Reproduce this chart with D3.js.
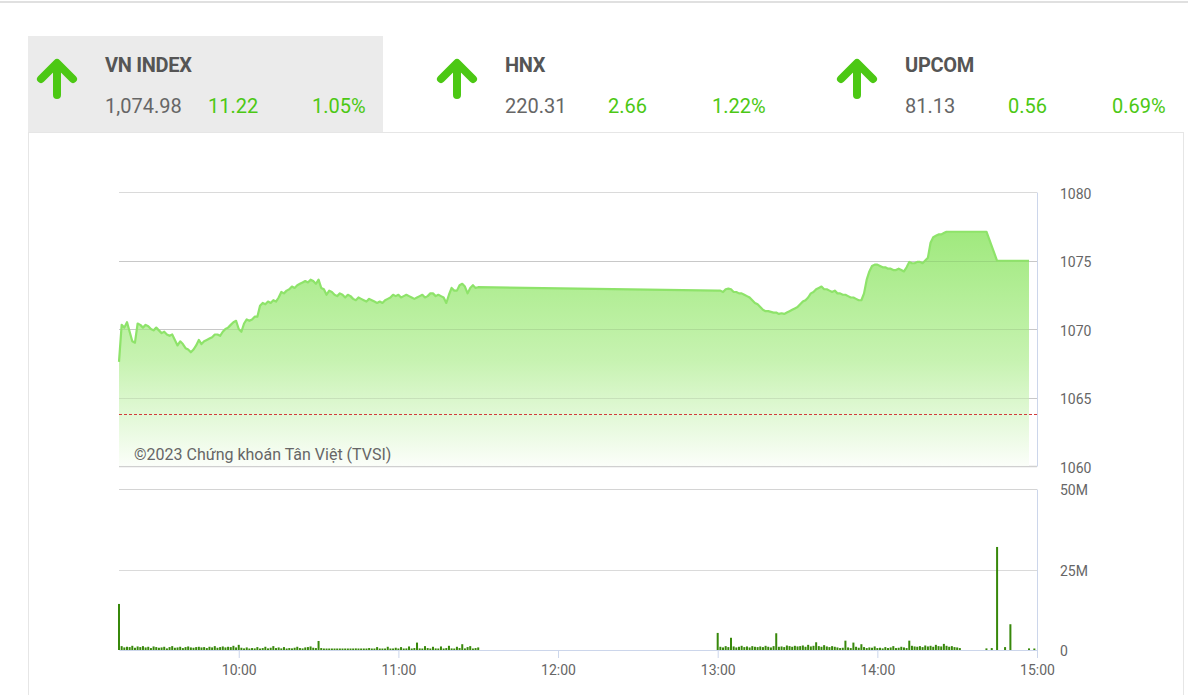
<!DOCTYPE html>
<html>
<head>
<meta charset="utf-8">
<script src="https://cdn.jsdelivr.net/npm/d3@7"></script>
<style>
  html, body { margin: 0; padding: 0; background: #fff; }
  svg { display: block; font-family: Roboto, "Noto Sans", sans-serif; }
</style>
</head>
<body>
<svg id="chart" width="1188" height="695"></svg>
<script>
// ---------------- DATA ----------------
const indexNames    = ["VN INDEX", "HNX", "UPCOM"];
const indexValues   = [1074.98, 220.31, 81.13];
const indexChanges  = [11.22, 2.66, 0.56];
const indexPercents = [1.05, 1.22, 0.69];

const referencePrice = 1063.76; // previous close

const priceTicks  = [1060, 1065, 1070, 1075, 1080];
const volumeTicks = [0, 25, 50]; // millions
const timeTicks   = ["10:00", "11:00", "12:00", "13:00", "14:00", "15:00"];
const timeDomain  = ["09:15", "15:00"];

const priceTimes = [
  "09:15","09:16","09:17","09:18","09:19","09:20","09:21","09:22","09:23","09:24","09:25","09:26","09:27","09:28","09:29","09:30",
  "09:31","09:32","09:33","09:34","09:35","09:36","09:37","09:38","09:39","09:40","09:41","09:42","09:43","09:44","09:45",
  "09:46","09:47","09:48","09:49","09:50","09:51","09:52","09:53","09:54","09:55","09:56","09:57","09:58","09:59","10:00",
  "10:01","10:02","10:03","10:04","10:05","10:06","10:07","10:08","10:09","10:10","10:11","10:12","10:13","10:14","10:15",
  "10:16","10:17","10:18","10:19","10:20","10:21","10:22","10:23","10:24","10:25","10:26","10:27","10:28","10:29","10:30",
  "10:31","10:32","10:33","10:34","10:35","10:36","10:37","10:38","10:39","10:40","10:41","10:42","10:43","10:44","10:45",
  "10:46","10:47","10:48","10:49","10:50","10:51","10:52","10:53","10:54","10:55","10:56","10:57","10:58","10:59","11:00",
  "11:01","11:02","11:03","11:04","11:05","11:06","11:07","11:08","11:09","11:10","11:11","11:12","11:13","11:14","11:15",
  "11:16","11:17","11:18","11:19","11:20","11:21","11:22","11:23","11:24","11:25","11:26","11:27","11:28","11:29","11:30",
  "13:00","13:01","13:02","13:03","13:04","13:05","13:06","13:07","13:08","13:09","13:10","13:11","13:12","13:13","13:14","13:15",
  "13:16","13:17","13:18","13:19","13:20","13:21","13:22","13:23","13:24","13:25","13:26","13:27","13:28","13:29","13:30",
  "13:31","13:32","13:33","13:34","13:35","13:36","13:37","13:38","13:39","13:40","13:41","13:42","13:43","13:44","13:45",
  "13:46","13:47","13:48","13:49","13:50","13:51","13:52","13:53","13:54","13:55","13:56","13:57","13:58","13:59","14:00",
  "14:01","14:02","14:03","14:04","14:05","14:06","14:07","14:08","14:09","14:10","14:11","14:12","14:13","14:14","14:15",
  "14:16","14:17","14:18","14:19","14:20","14:21","14:22","14:23","14:24","14:25","14:26","14:27","14:29","14:41","14:45","14:57"
];
const priceValues = [
  1067.6,1070.3,1070.1,1070.5,1069.8,1069.1,1069.0,1070.4,1070.3,1070.1,1070.3,1070.2,1070.0,1069.9,1070.1,1069.9,
  1069.7,1069.8,1069.6,1069.5,1069.6,1069.2,1068.8,1069.1,1068.9,1068.6,1068.5,1068.3,1068.5,1068.8,1069.2,
  1068.9,1069.1,1069.2,1069.3,1069.4,1069.6,1069.6,1069.5,1069.8,1070.0,1070.1,1070.3,1070.5,1070.6,1070.0,
  1069.8,1070.4,1070.7,1070.6,1070.7,1070.9,1070.9,1071.7,1071.9,1071.8,1072.0,1071.9,1072.1,1072.0,1072.3,
  1072.7,1072.6,1072.8,1072.9,1073.1,1073.0,1073.2,1073.3,1073.4,1073.5,1073.4,1073.6,1073.5,1073.3,1073.6,
  1073.0,1072.9,1072.5,1072.8,1072.7,1072.5,1072.4,1072.6,1072.5,1072.3,1072.5,1072.4,1072.2,1072.1,1072.3,
  1072.2,1072.1,1072.0,1072.2,1072.1,1072.0,1071.9,1072.0,1071.9,1072.1,1072.2,1072.3,1072.5,1072.4,1072.5,
  1072.3,1072.4,1072.5,1072.4,1072.3,1072.2,1072.3,1072.4,1072.5,1072.3,1072.4,1072.6,1072.6,1072.4,1072.5,
  1072.4,1072.3,1071.9,1072.5,1073.0,1072.8,1072.8,1073.2,1073.3,1073.1,1072.6,1073.0,1073.2,1073.0,1073.05,
  1072.8,1072.8,1072.7,1072.9,1072.95,1072.9,1072.7,1072.7,1072.6,1072.6,1072.5,1072.4,1072.3,1072.1,1071.9,1071.8,
  1071.6,1071.4,1071.3,1071.3,1071.25,1071.2,1071.2,1071.1,1071.15,1071.1,1071.2,1071.3,1071.4,1071.5,1071.6,
  1071.8,1072.0,1072.1,1072.3,1072.6,1072.7,1072.9,1073.0,1073.1,1072.9,1072.9,1072.8,1072.7,1072.8,1072.6,
  1072.6,1072.5,1072.5,1072.4,1072.3,1072.3,1072.2,1072.1,1072.1,1072.6,1073.6,1074.2,1074.6,1074.7,1074.7,
  1074.6,1074.5,1074.5,1074.4,1074.4,1074.3,1074.3,1074.4,1074.3,1074.2,1074.5,1074.9,1074.8,1074.8,1074.9,
  1074.9,1074.8,1075.0,1075.2,1076.3,1076.7,1076.8,1076.9,1076.9,1077.0,1077.1,1077.1,1077.1,1077.1,1074.98,1074.98
];

// volume per minute (millions), morning session starts 09:15, afternoon 13:00
const volumeMorningStart = "09:15";
const volumeMorning = [
  14.3,
  1.2,0.8,1.0,0.9,1.3,0.7,1.1,0.9,1.2,0.8,1.0,0.6,1.1,0.9,0.7,
  0.8,1.0,0.5,0.9,1.2,0.7,0.8,1.0,0.6,0.9,1.1,0.8,0.7,0.9,1.0,
  0.8,0.9,0.6,1.0,0.8,1.2,0.7,0.9,1.1,0.8,1.0,0.9,1.3,0.8,1.6,
  0.7,0.5,0.8,0.4,0.6,0.5,0.9,0.4,0.6,1.0,0.5,0.7,1.2,0.6,0.8,
  0.5,0.9,0.4,0.6,0.5,0.7,1.0,0.6,0.5,0.8,0.9,1.1,0.7,0.6,2.8,
  0.6,0.4,0.3,0.4,0.3,0.4,0.3,0.3,0.4,0.3,0.3,0.4,0.3,0.5,0.3,
  0.3,0.4,0.3,0.6,0.3,0.3,0.9,0.3,0.4,0.3,1.0,0.3,0.4,0.7,0.3,
  0.9,0.3,0.5,1.1,0.4,0.6,2.3,0.5,0.4,1.2,0.6,0.3,1.0,0.5,0.4,
  1.1,0.4,0.6,1.3,0.5,0.4,1.0,0.6,1.8,0.5,0.9,1.2,0.4,0.6,0.8
];
const volumeAfternoonStart = "13:00";
const volumeAfternoon = [
  5.3,
  1.0,0.8,1.2,0.9,3.8,1.1,0.8,1.0,1.3,0.9,1.1,0.8,1.2,1.0,0.9,
  1.1,0.9,1.3,1.0,0.8,1.2,5.2,1.0,1.1,0.9,1.4,1.2,1.0,1.3,1.1,
  1.2,1.4,1.0,1.6,1.1,1.3,2.4,1.2,1.0,1.5,1.1,0.9,1.2,1.0,0.8,
  0.6,0.7,2.9,0.8,0.6,2.3,1.0,0.7,1.8,0.9,0.6,0.8,0.7,1.1,0.6,
  0.7,0.5,0.9,0.6,0.8,1.2,0.6,0.7,1.0,0.8,0.6,2.9,1.3,1.1,1.0,
  1.2,0.9,1.4,1.1,1.3,1.0,1.6,1.2,1.1,1.9,1.3,1.0,1.2,0.9,0.8,
  0.6,0,0,0,0,0,0,0,0,0,0.5,0,0.6,0,32.0,
  0,0,0.9,0,8.0,0,0,0,0,0,0,0.5,0,0.4
];

// ---------------- DRAW ----------------
const svg = d3.select("#chart");
const parse = d3.timeParse("%H:%M");
const green = "#4cc814";
const txtGrey = "#666";

// top thin border
svg.append("rect").attr("x", 0).attr("y", 1).attr("width", 1188).attr("height", 2).attr("fill", "#e0e0e0");

// header
svg.append("rect").attr("x", 28).attr("y", 36).attr("width", 355).attr("height", 96).attr("fill", "#ebebeb");
// panel
svg.append("rect").attr("x", 28.5).attr("y", 132.5).attr("width", 1155).attr("height", 600)
  .attr("fill", "none").attr("stroke", "#e6e6e6");

const headerX = d3.scalePoint().domain(indexNames).range([0, 800]);
const cells = svg.selectAll("g.cell").data(indexNames).join("g")
  .attr("class", "cell").attr("transform", d => `translate(${headerX(d)},0)`);

cells.append("path")
  .attr("d", "M57,95 L57,66 M41,79 L57,63 L73,79")
  .attr("fill", "none").attr("stroke", green).attr("stroke-width", 8)
  .attr("stroke-linecap", "round").attr("stroke-linejoin", "round");
cells.append("text").attr("x", 105).attr("y", 72).text(d => d)
  .attr("font-size", 20).attr("font-weight", "bold").attr("fill", "#555")
  .attr("letter-spacing", -0.3);
const fmtVal = d3.format(",.2f");
cells.append("text").attr("x", 105).attr("y", 113).text((d, i) => fmtVal(indexValues[i]))
  .attr("font-size", 20).attr("fill", txtGrey);
cells.append("text").attr("x", 208).attr("y", 113).text((d, i) => d3.format(".2f")(indexChanges[i]))
  .attr("font-size", 20).attr("fill", green);
cells.append("text").attr("x", 312).attr("y", 113).text((d, i) => d3.format(".2f")(indexPercents[i]) + "%")
  .attr("font-size", 20).attr("fill", green);

// scales
const x = d3.scaleTime().domain(timeDomain.map(parse)).range([119, 1037]);
const yP = d3.scaleLinear().domain([1060, 1080]).range([466, 192]);
const yV = d3.scaleLinear().domain([0, 50]).range([650, 489]);

const priceData = priceTimes.map((t, i) => ({ t: parse(t), v: priceValues[i] }));

// price gridlines
svg.append("g").selectAll("line").data(priceTicks).join("line")
  .attr("x1", 119).attr("x2", 1037)
  .attr("y1", d => Math.round(yP(d)) + 0.5).attr("y2", d => Math.round(yP(d)) + 0.5)
  .attr("stroke", d => d === 1060 ? "#d0d0d0" : "#dadada").attr("stroke-width", d => d === 1060 ? 1.5 : 1);

// gradient
const defs = svg.append("defs");
const grad = defs.append("linearGradient").attr("id", "pg")
  .attr("gradientUnits", "userSpaceOnUse")
  .attr("x1", 0).attr("x2", 0)
  .attr("y1", yP(d3.max(priceValues))).attr("y2", yP(1060));
grad.append("stop").attr("offset", 0).attr("stop-color", "#9be877");
grad.append("stop").attr("offset", 0.55).attr("stop-color", "#c4f2ad");
grad.append("stop").attr("offset", 1).attr("stop-color", "#fbfef9");

const area = d3.area().x(d => x(d.t)).y0(yP(1060)).y1(d => yP(d.v));
const line = d3.line().x(d => x(d.t)).y(d => yP(d.v));

svg.append("path").datum(priceData).attr("d", area).attr("fill", "url(#pg)").attr("opacity", 0.95);
// gridlines faintly visible through area
svg.append("g").selectAll("line").data(priceTicks.filter(d => d > 1060 && d < 1080)).join("line")
  .attr("x1", 119).attr("x2", 1037)
  .attr("y1", d => Math.round(yP(d)) + 0.5).attr("y2", d => Math.round(yP(d)) + 0.5)
  .attr("stroke", "#000").attr("stroke-opacity", 0.08);
svg.append("path").datum(priceData).attr("d", line)
  .attr("fill", "none").attr("stroke", "#8ee36a").attr("stroke-width", 2.2).attr("stroke-linejoin", "round");

// reference line
svg.append("line").attr("x1", 119).attr("x2", 1037)
  .attr("y1", Math.round(yP(referencePrice)) + 0.5).attr("y2", Math.round(yP(referencePrice)) + 0.5)
  .attr("stroke", "#d23b3b").attr("stroke-width", 1).attr("stroke-dasharray", "3,2");

// copyright
svg.append("text").attr("x", 134).attr("y", 460).text("©2023 Chứng khoán Tân Việt (TVSI)")
  .attr("font-size", 16).attr("fill", txtGrey);

// price axis
const axP = svg.append("g").attr("transform", "translate(1037,0)")
  .call(d3.axisRight(yP).tickValues(priceTicks).tickSize(0).tickPadding(23).tickFormat(d3.format("d")));
axP.select(".domain").attr("stroke", "#ccd6eb");
axP.selectAll("text").attr("font-size", 14).attr("fill", txtGrey).attr("font-family", "Roboto").attr("dy", "0.45em");

// volume gridlines
svg.append("g").selectAll("line").data(volumeTicks.filter(d => d > 0)).join("line")
  .attr("x1", 119).attr("x2", 1037)
  .attr("y1", d => Math.round(yV(d)) + 0.5).attr("y2", d => Math.round(yV(d)) + 0.5)
  .attr("stroke", d => d === 50 ? "#d4d4d4" : "#dadada");

// volume axis
const axV = svg.append("g").attr("transform", "translate(1037,0)")
  .call(d3.axisRight(yV).tickValues(volumeTicks).tickSize(0).tickPadding(23).tickFormat(d => d === 0 ? "0" : d + "M"));
axV.select(".domain").attr("stroke", "#ccd6eb");
axV.selectAll("text").attr("font-size", 14).attr("fill", txtGrey).attr("font-family", "Roboto").attr("dy", "0.42em");

// time axis
const axX = svg.append("g").attr("transform", "translate(0,650)")
  .call(d3.axisBottom(x).tickValues(timeTicks.map(parse)).tickFormat(d3.timeFormat("%H:%M")).tickSize(8).tickPadding(7));
axX.select(".domain").attr("stroke", "#ccd6eb").attr("d", "M119.5,0.5H1037.5");
axX.selectAll(".tick line").attr("stroke", "#ccd6eb");
axX.selectAll("text").attr("font-size", 14).attr("fill", txtGrey).attr("font-family", "Roboto");

// volume bars
const t0m = parse(volumeMorningStart), t0a = parse(volumeAfternoonStart);
const volData = volumeMorning.map((v, i) => ({ t: d3.timeMinute.offset(t0m, i), v }))
  .concat(volumeAfternoon.map((v, i) => ({ t: d3.timeMinute.offset(t0a, i), v })))
  .filter(d => d.v > 0);
svg.append("g").selectAll("rect").data(volData).join("rect")
  .attr("x", d => x(d.t) - 1).attr("width", 2)
  .attr("y", d => Math.min(yV(d.v), yV(0) - 1.5)).attr("height", d => Math.max(yV(0) - yV(d.v), 1.5))
  .attr("fill", "#37880a");
</script>
</body>
</html>
